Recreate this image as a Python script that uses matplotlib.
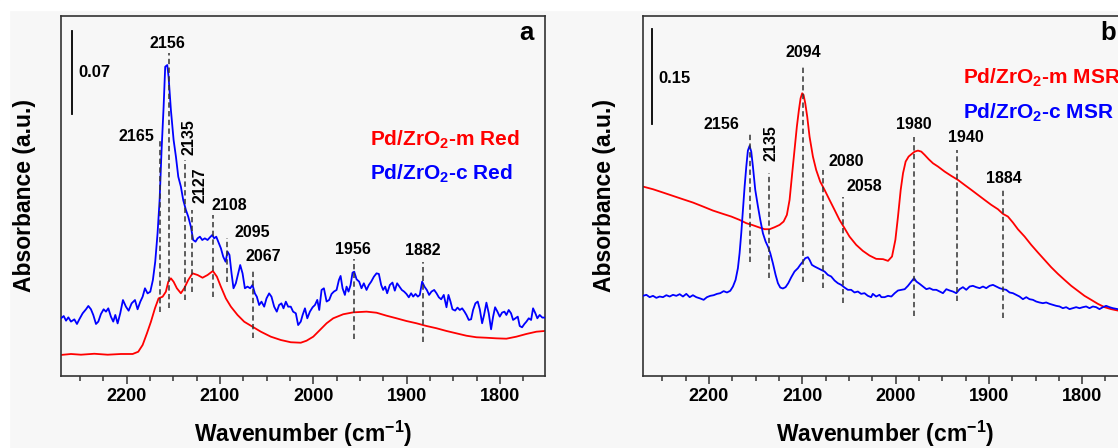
"""
Two-panel DRIFTS plot of CO adsorption on Pd/ZrO2 (monoclinic vs cubic).

Panel a: reduced catalysts, panel b: after methanol steam reforming.
Spectra are stacked, absorbance in a.u. with a scale bar.
"""

import matplotlib.pyplot as plt
from matplotlib.patches import Rectangle
from matplotlib.ticker import MultipleLocator

plt.rcParams["font.family"] = ["Liberation Sans", "DejaVu Sans"]
plt.rcParams["font.weight"] = "bold"
plt.rcParams["axes.labelweight"] = "bold"
plt.rcParams["mathtext.default"] = "regular"

# ---- panel a: Red spectra (wavenumber, absorbance) ----
red_a = [
    (2270.4, 0.0175), (2259.7, 0.0183), (2249.0, 0.0177), (2234.7, 0.0185),
    (2220.4, 0.0177), (2206.1, 0.0183), (2193.6, 0.0183), (2187.6, 0.0202),
    (2182.9, 0.0259), (2178.3, 0.0357), (2174.0, 0.0455), (2169.7, 0.0568),
    (2165.8, 0.0652), (2161.5, 0.0666), (2158.0, 0.0708), (2155.4, 0.0792),
    (2152.6, 0.0821), (2149.7, 0.0792), (2146.2, 0.0737), (2141.9, 0.0695),
    (2138.3, 0.0737), (2134.0, 0.0807), (2129.4, 0.0863), (2124.0, 0.0849),
    (2118.7, 0.0826), (2113.3, 0.0849), (2107.6, 0.0883), (2103.3, 0.0835),
    (2099.0, 0.0750), (2093.7, 0.0652), (2088.3, 0.0582), (2081.2, 0.0512),
    (2074.0, 0.0455), (2065.1, 0.0413), (2056.2, 0.0371), (2045.5, 0.0329),
    (2034.8, 0.0301), (2024.1, 0.0282), (2013.4, 0.0278), (2007.2, 0.0295),
    (2000.0, 0.0329), (1992.9, 0.0385), (1985.7, 0.0442), (1978.6, 0.0484),
    (1967.9, 0.0518), (1957.2, 0.0534), (1942.9, 0.0540), (1932.2, 0.0531),
    (1921.5, 0.0506), (1910.8, 0.0484), (1900.1, 0.0461), (1889.4, 0.0442),
    (1878.6, 0.0419), (1867.9, 0.0400), (1857.2, 0.0377), (1846.5, 0.0357),
    (1835.8, 0.0337), (1825.1, 0.0324), (1814.4, 0.0320), (1803.7, 0.0315),
    (1793.0, 0.0312), (1782.3, 0.0329), (1771.5, 0.0352), (1760.8, 0.0371),
    (1751.9, 0.0377),
]

blue_a = [
    (2270.4, 0.0484), (2267.5, 0.0503), (2265.0, 0.0464), (2262.5, 0.0492),
    (2259.7, 0.0456), (2256.1, 0.0475), (2253.3, 0.0436), (2250.8, 0.0475),
    (2247.2, 0.0526), (2243.6, 0.0560), (2241.1, 0.0588), (2238.3, 0.0560),
    (2235.8, 0.0512), (2232.9, 0.0436), (2230.4, 0.0456), (2227.6, 0.0520),
    (2224.7, 0.0560), (2222.2, 0.0540), (2219.7, 0.0568), (2216.9, 0.0498),
    (2214.4, 0.0456), (2212.2, 0.0512), (2209.7, 0.0441), (2206.9, 0.0526),
    (2204.0, 0.0638), (2200.8, 0.0582), (2197.9, 0.0548), (2194.7, 0.0610),
    (2191.1, 0.0638), (2188.3, 0.0560), (2185.4, 0.0624), (2182.9, 0.0666),
    (2180.4, 0.0737), (2177.6, 0.0694), (2174.7, 0.0708), (2171.9, 0.0807),
    (2169.4, 0.0961), (2166.9, 0.1200), (2164.7, 0.1481), (2162.6, 0.1903),
    (2160.4, 0.2268), (2158.7, 0.2605), (2156.5, 0.2619), (2155.1, 0.2521),
    (2152.6, 0.2240), (2149.7, 0.1987), (2147.2, 0.1846), (2144.7, 0.1678),
    (2141.9, 0.1594), (2139.4, 0.1481), (2136.5, 0.1397), (2134.0, 0.1341),
    (2131.2, 0.1256), (2128.7, 0.1144), (2126.2, 0.1130), (2124.0, 0.1158),
    (2121.5, 0.1172), (2119.0, 0.1144), (2116.2, 0.1158), (2113.3, 0.1144),
    (2110.8, 0.1166), (2108.3, 0.1186), (2106.2, 0.1158), (2104.0, 0.1172),
    (2101.9, 0.1130), (2099.0, 0.1074), (2096.5, 0.1003), (2094.0, 0.0961),
    (2091.9, 0.1046), (2089.8, 0.1018), (2087.6, 0.0863), (2085.5, 0.0737),
    (2083.0, 0.0779), (2080.5, 0.0863), (2078.3, 0.0933), (2075.8, 0.0863),
    (2073.3, 0.0737), (2070.5, 0.0751), (2067.6, 0.0737), (2065.1, 0.0765),
    (2062.6, 0.0694), (2060.5, 0.0666), (2058.0, 0.0596), (2055.5, 0.0624),
    (2052.6, 0.0582), (2050.1, 0.0652), (2047.3, 0.0694), (2044.8, 0.0666),
    (2041.9, 0.0582), (2039.1, 0.0540), (2036.6, 0.0596), (2034.1, 0.0610),
    (2031.9, 0.0568), (2029.4, 0.0624), (2026.9, 0.0582), (2024.1, 0.0582),
    (2021.6, 0.0540), (2018.7, 0.0526), (2016.2, 0.0427), (2013.4, 0.0456),
    (2011.4, 0.0512), (2008.9, 0.0568), (2006.4, 0.0484), (2003.6, 0.0540),
    (2000.7, 0.0577), (1998.2, 0.0596), (1995.7, 0.0639), (1993.6, 0.0554),
    (1991.1, 0.0723), (1988.6, 0.0737), (1985.7, 0.0625), (1982.9, 0.0639),
    (1980.4, 0.0689), (1977.9, 0.0709), (1975.0, 0.0723), (1972.5, 0.0807),
    (1970.7, 0.0841), (1968.6, 0.0737), (1966.1, 0.0681), (1964.3, 0.0751),
    (1962.2, 0.0709), (1960.0, 0.0765), (1957.9, 0.0869), (1956.1, 0.0877),
    (1953.6, 0.0813), (1950.8, 0.0793), (1948.3, 0.0737), (1945.8, 0.0779),
    (1942.9, 0.0723), (1940.4, 0.0765), (1937.9, 0.0793), (1935.0, 0.0835),
    (1932.2, 0.0863), (1929.7, 0.0858), (1927.2, 0.0765), (1925.1, 0.0723),
    (1922.9, 0.0751), (1920.8, 0.0695), (1917.9, 0.0765), (1915.1, 0.0785),
    (1912.6, 0.0717), (1910.1, 0.0779), (1907.6, 0.0751), (1905.1, 0.0723),
    (1902.6, 0.0709), (1900.1, 0.0689), (1897.6, 0.0661), (1895.1, 0.0695),
    (1892.9, 0.0667), (1890.4, 0.0689), (1887.9, 0.0667), (1885.8, 0.0681),
    (1883.3, 0.0793), (1880.8, 0.0751), (1878.3, 0.0723), (1875.8, 0.0681),
    (1873.3, 0.0709), (1870.4, 0.0723), (1867.9, 0.0695), (1865.4, 0.0661),
    (1862.9, 0.0644), (1860.1, 0.0681), (1857.2, 0.0577), (1855.1, 0.0681),
    (1852.9, 0.0625), (1850.8, 0.0560), (1847.9, 0.0549), (1845.4, 0.0574),
    (1842.9, 0.0554), (1840.4, 0.0568), (1837.9, 0.0540), (1835.8, 0.0512),
    (1833.3, 0.0470), (1830.8, 0.0476), (1828.7, 0.0554), (1826.2, 0.0610),
    (1823.7, 0.0625), (1821.5, 0.0560), (1819.0, 0.0442), (1816.9, 0.0512),
    (1814.4, 0.0616), (1811.9, 0.0526), (1809.4, 0.0391), (1807.2, 0.0498),
    (1805.1, 0.0577), (1802.6, 0.0540), (1800.1, 0.0498), (1797.6, 0.0532),
    (1795.1, 0.0540), (1793.0, 0.0512), (1790.5, 0.0554), (1788.0, 0.0526),
    (1785.8, 0.0470), (1783.3, 0.0484), (1780.8, 0.0498), (1778.7, 0.0419),
    (1776.2, 0.0408), (1773.7, 0.0436), (1771.5, 0.0456), (1769.0, 0.0484),
    (1766.5, 0.0470), (1764.4, 0.0568), (1761.9, 0.0526), (1759.8, 0.0484),
    (1757.3, 0.0512), (1754.5, 0.0490), (1752.0, 0.0490),
]

# ---- panel b: MSR spectra ----
red_b = [
    (2270.7, 0.2986), (2260.0, 0.2944), (2249.3, 0.2892), (2238.6, 0.2839),
    (2227.9, 0.2786), (2217.2, 0.2734), (2206.4, 0.2671), (2195.7, 0.2607),
    (2185.0, 0.2555), (2176.1, 0.2513), (2167.2, 0.2460), (2160.0, 0.2408),
    (2152.9, 0.2376), (2145.8, 0.2339), (2140.4, 0.2313), (2135.0, 0.2313),
    (2129.7, 0.2344), (2124.3, 0.2381), (2120.0, 0.2434), (2116.5, 0.2539),
    (2113.6, 0.2776), (2110.8, 0.3197), (2108.3, 0.3565), (2105.8, 0.3933),
    (2103.6, 0.4196), (2101.8, 0.4380), (2100.1, 0.4459), (2098.6, 0.4433),
    (2096.8, 0.4301), (2094.7, 0.4091), (2092.2, 0.3775), (2088.6, 0.3460),
    (2085.1, 0.3249), (2080.8, 0.3065), (2076.1, 0.2934), (2070.8, 0.2776),
    (2065.4, 0.2618), (2060.1, 0.2460), (2054.7, 0.2329), (2049.4, 0.2197),
    (2042.2, 0.2066), (2035.1, 0.1971), (2027.9, 0.1897), (2020.8, 0.1845),
    (2013.4, 0.1840), (2008.1, 0.1813), (2003.8, 0.1882), (2000.2, 0.2145),
    (1997.4, 0.2513), (1994.5, 0.2934), (1992.0, 0.3197), (1989.2, 0.3381),
    (1986.0, 0.3460), (1983.1, 0.3496), (1979.5, 0.3538), (1976.0, 0.3554),
    (1972.4, 0.3538), (1968.8, 0.3486), (1964.5, 0.3418), (1959.9, 0.3354),
    (1954.5, 0.3302), (1947.4, 0.3223), (1940.3, 0.3155), (1933.1, 0.3091),
    (1926.0, 0.3012), (1918.8, 0.2934), (1911.7, 0.2855), (1904.6, 0.2776),
    (1897.4, 0.2697), (1890.3, 0.2629), (1884.9, 0.2555), (1879.6, 0.2513),
    (1874.2, 0.2418), (1868.9, 0.2313), (1861.7, 0.2197), (1854.6, 0.2066),
    (1847.4, 0.1945), (1840.3, 0.1829), (1833.2, 0.1713), (1826.0, 0.1608),
    (1818.9, 0.1513), (1811.7, 0.1419), (1804.6, 0.1340), (1797.5, 0.1261),
    (1790.3, 0.1198), (1783.2, 0.1135), (1776.0, 0.1082), (1768.9, 0.1051),
    (1761.8, 0.1029),
]

blue_b = [
    (2270.7, 0.1261), (2267.1, 0.1277), (2263.6, 0.1240), (2260.0, 0.1261),
    (2256.4, 0.1229), (2252.9, 0.1250), (2249.3, 0.1240), (2245.7, 0.1271),
    (2242.1, 0.1250), (2238.6, 0.1277), (2235.0, 0.1261), (2231.4, 0.1287),
    (2227.9, 0.1250), (2224.3, 0.1292), (2220.7, 0.1240), (2217.2, 0.1271),
    (2213.6, 0.1240), (2209.3, 0.1219), (2205.7, 0.1198), (2202.2, 0.1240),
    (2198.6, 0.1261), (2195.0, 0.1271), (2191.4, 0.1292), (2187.9, 0.1303),
    (2184.3, 0.1335), (2180.7, 0.1314), (2177.2, 0.1340), (2174.3, 0.1408),
    (2171.5, 0.1513), (2169.0, 0.1697), (2167.2, 0.1934), (2165.4, 0.2250),
    (2163.6, 0.2618), (2161.8, 0.2986), (2160.0, 0.3302), (2158.3, 0.3554),
    (2156.5, 0.3628), (2154.7, 0.3538), (2152.9, 0.3302), (2150.4, 0.2934),
    (2147.5, 0.2671), (2145.0, 0.2460), (2142.2, 0.2250), (2139.3, 0.2118),
    (2136.8, 0.2039), (2134.3, 0.1934), (2131.5, 0.1776), (2128.6, 0.1592),
    (2126.1, 0.1461), (2123.6, 0.1392), (2120.8, 0.1377), (2117.9, 0.1398),
    (2115.0, 0.1461), (2111.8, 0.1555), (2108.3, 0.1645), (2104.7, 0.1697),
    (2102.2, 0.1750), (2099.3, 0.1803), (2096.8, 0.1855), (2094.0, 0.1871),
    (2092.2, 0.1829), (2089.7, 0.1750), (2086.8, 0.1724), (2083.3, 0.1697),
    (2079.7, 0.1671), (2076.1, 0.1645), (2072.6, 0.1592), (2069.0, 0.1566),
    (2065.4, 0.1503), (2061.9, 0.1461), (2058.3, 0.1434), (2054.7, 0.1392),
    (2051.1, 0.1356), (2047.6, 0.1356), (2044.0, 0.1314), (2040.4, 0.1329),
    (2036.9, 0.1292), (2033.3, 0.1303), (2029.7, 0.1261), (2026.2, 0.1240),
    (2024.4, 0.1292), (2020.8, 0.1250), (2017.2, 0.1277), (2015.2, 0.1240),
    (2011.7, 0.1240), (2008.1, 0.1261), (2004.5, 0.1250), (2000.9, 0.1303),
    (1997.4, 0.1345), (1993.8, 0.1356), (1990.2, 0.1366), (1986.7, 0.1419),
    (1983.1, 0.1487), (1980.2, 0.1540), (1977.7, 0.1487), (1974.2, 0.1450),
    (1970.6, 0.1408), (1967.0, 0.1366), (1963.5, 0.1382), (1959.9, 0.1356),
    (1956.3, 0.1356), (1952.8, 0.1329), (1949.2, 0.1303), (1945.6, 0.1366),
    (1942.0, 0.1345), (1938.5, 0.1329), (1934.9, 0.1303), (1931.3, 0.1366),
    (1927.8, 0.1398), (1924.2, 0.1356), (1920.6, 0.1408), (1917.1, 0.1419),
    (1913.5, 0.1398), (1909.9, 0.1382), (1906.3, 0.1408), (1902.8, 0.1382),
    (1899.2, 0.1419), (1895.6, 0.1434), (1892.1, 0.1408), (1888.5, 0.1382),
    (1884.9, 0.1366), (1881.4, 0.1356), (1877.8, 0.1314), (1874.2, 0.1303),
    (1870.7, 0.1277), (1867.1, 0.1250), (1863.5, 0.1208), (1859.9, 0.1240),
    (1856.4, 0.1208), (1852.8, 0.1198), (1849.2, 0.1171), (1845.7, 0.1156),
    (1842.1, 0.1145), (1838.5, 0.1156), (1835.0, 0.1135), (1831.4, 0.1119),
    (1827.8, 0.1103), (1824.2, 0.1093), (1820.7, 0.1066), (1817.1, 0.1082),
    (1813.5, 0.1051), (1810.0, 0.1066), (1806.4, 0.1082), (1802.8, 0.1066),
    (1799.2, 0.1082), (1795.7, 0.1093), (1792.1, 0.1066), (1788.5, 0.1093),
    (1785.0, 0.1082), (1781.4, 0.1051), (1777.8, 0.1082), (1774.3, 0.1103),
    (1770.7, 0.1082), (1767.1, 0.1066), (1761.8, 0.1051),
]

# peak labels and where the dashed marker sits (wavenumber)
peaks_a = ["2165", "2156", "2135", "2127", "2108", "2095", "2067", "1956", "1882"]
marks_a = [2164.6, 2155.1, 2137.5, 2130.0, 2107.5, 2092.3, 2064.6, 1956.4, 1882.1]
peaks_b = ["2156", "2135", "2094", "2080", "2058", "1980", "1940", "1884"]
marks_b = [2155.7, 2135.8, 2099.3, 2077.9, 2056.5, 1980.2, 1933.8, 1884.9]

legend_a = ["Pd/ZrO$_2$-m Red", "Pd/ZrO$_2$-c Red"]
legend_b = ["Pd/ZrO$_2$-m MSR", "Pd/ZrO$_2$-c MSR"]

# ---- layout: dashed line extents (y0, y1) and label spots (x, y, rotation) ----
dash_a = [(0.0540, 0.1987), (0.0568, 0.2720), (0.0638, 0.1818), (0.0708, 0.1397),
          (0.0666, 0.1355), (0.0792, 0.1161), (0.0315, 0.0891), (0.0307, 0.0981),
          (0.0287, 0.0961)]
spot_a = [(2190.0, 0.2015, 0), (2155.9, 0.2802, 0), (2133.2, 0.2015, 90),
          (2121.1, 0.1608, 90), (2090.0, 0.1431, 0), (2065.4, 0.1209, 0),
          (2053.1, 0.1003, 0), (1957.1, 0.1066, 0), (1882.1, 0.1054, 0)]
dash_b = [(0.1803, 0.3854), (0.1540, 0.3197), (0.1487, 0.4906), (0.1382, 0.3249),
          (0.1145, 0.2828), (0.0935, 0.3775), (0.1172, 0.3565), (0.0909, 0.2960)]
spot_b = [(2186.8, 0.3959, 0), (2133.8, 0.3670, 90), (2098.6, 0.5107, 0),
          (2052.8, 0.3381, 0), (2033.8, 0.2986, 0), (1980.2, 0.3959, 0),
          (1924.6, 0.3759, 0), (1884.2, 0.3118, 0)]

RED = "#ff0000"
BLUE = "#0000ff"
DASH = "#333333"
XLIM = (2270.4, 1751.6)


def style_axes(ax, ytop, letter, ylabel_x):
    ax.set_xlim(*XLIM)
    ax.set_ylim(0, ytop)
    ax.set_facecolor("none")
    ax.xaxis.set_major_locator(MultipleLocator(100))
    ax.xaxis.set_minor_locator(MultipleLocator(25))
    ax.tick_params(axis="x", which="major", direction="out", length=5.5,
                   width=1.1, pad=3.5, labelsize=13, color="#333333")
    ax.tick_params(axis="x", which="minor", direction="out", length=3.5,
                   width=1.1, color="#333333")
    ax.set_yticks([])
    for spine in ax.spines.values():
        spine.set_linewidth(1.2)
        spine.set_color("#333333")
    ax.set_xlabel("Wavenumber (cm$^{-1}$)", fontsize=16.5, fontweight="bold",
                  va="center")
    ax.xaxis.set_label_coords(0.5, -0.163)
    ax.set_ylabel("Absorbance (a.u.)", fontsize=16.5, fontweight="bold",
                  va="center")
    ax.yaxis.set_label_coords(ylabel_x, 0.5)
    ax.text(0.977, 0.9325, letter, transform=ax.transAxes, ha="right",
            va="baseline", fontsize=18.5)


def draw_peaks(ax, labels, marks, dashes, spots):
    for lab, wn, (y0, y1), (tx, ty, rot) in zip(labels, marks, dashes, spots):
        ax.plot([wn, wn], [y0, y1], color=DASH, lw=1.1, ls=(0, (3.5, 2.2)),
                zorder=4)
        ax.text(tx, ty, lab, fontsize=11.5, ha="center", va="center",
                rotation=rot, zorder=5)


fig = plt.figure(figsize=(11.18, 4.48), dpi=100, facecolor="#f7f7f7")
fig.add_artist(Rectangle((0, 1 - 10 / 448), 1, 10 / 448, transform=fig.transFigure,
                         color="white", zorder=-1))
fig.add_artist(Rectangle((0, 0), 9 / 1118, 1, transform=fig.transFigure,
                         color="white", zorder=-1))

ax_a = fig.add_axes([61 / 1118, 72.3 / 448, 484 / 1118, 360 / 448])
ax_b = fig.add_axes([643.3 / 1118, 72.3 / 448, 484 / 1118, 360 / 448])

# panel a
style_axes(ax_a, 0.3035, "a", -0.0744)
ax_a.plot(*zip(*red_a), color=RED, lw=1.3, zorder=2)
ax_a.plot(*zip(*blue_a), color=BLUE, lw=1.3, zorder=3)
draw_peaks(ax_a, peaks_a, marks_a, dash_a, spot_a)
ax_a.plot([2258.1, 2258.1], [0.2206, 0.2906], color="black", lw=1.3)
ax_a.text(2251.3, 0.256, "0.07", fontsize=12, ha="left", va="center")
ax_a.text(1939.6, 0.1939, legend_a[0], color=RED, fontsize=15, ha="left",
          va="baseline")
ax_a.text(1939.6, 0.1650, legend_a[1], color=BLUE, fontsize=15, ha="left",
          va="baseline")

# panel b
style_axes(ax_b, 0.5684, "b", -0.080)
ax_b.plot(*zip(*red_b), color=RED, lw=1.3, zorder=2)
ax_b.plot(*zip(*blue_b), color=BLUE, lw=1.3, zorder=3)
draw_peaks(ax_b, peaks_b, marks_b, dash_b, spot_b)
ax_b.plot([2261.3, 2261.3], [0.3974, 0.5474], color="black", lw=1.3)
ax_b.text(2254.6, 0.4696, "0.15", fontsize=12, ha="left", va="center")
ax_b.text(1927.7, 0.4617, legend_b[0], color=RED, fontsize=15, ha="left",
          va="baseline")
ax_b.text(1927.7, 0.4064, legend_b[1], color=BLUE, fontsize=15, ha="left",
          va="baseline")

fig.savefig("out.png", dpi=100, facecolor=fig.get_facecolor())
